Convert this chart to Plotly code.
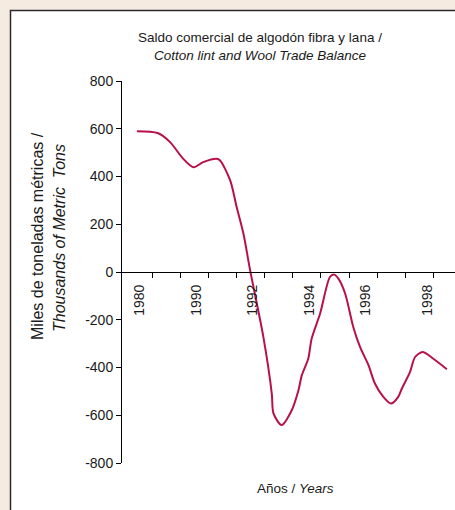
import plotly.graph_objects as go

# ---- data ----
# period index along the category axis (1 unit = one tick interval)
periodo = [0.45, 1.19, 1.63, 2.10, 2.46, 2.81, 3.29, 3.41, 3.77, 4.00, 4.24, 4.48,
           4.95, 5.25, 5.31, 5.60, 5.96, 6.20, 6.32, 6.55, 6.67, 6.97, 7.32, 7.47,
           7.62, 7.86, 8.15, 8.39, 8.69, 8.92, 9.22, 9.49, 9.75, 9.88, 10.17, 10.35,
           10.62, 10.94, 11.48]
saldo = [590, 582, 544, 474, 439, 460, 474, 467, 384, 272, 161, 7,
         -272, -509, -592, -641, -579, -495, -432, -362, -279, -174, -21, -11,
         -28, -90, -230, -314, -390, -467, -523, -551, -523, -488, -418, -356,
         -335, -358, -407]

tick_labels = ["1980", "1990", "1992", "1994", "1996", "1998"]
label_pos = [0.55, 2.57, 4.56, 6.6, 8.58, 10.78]
boundaries = list(range(1, 12))
y_ticks = list(range(-800, 801, 200))
y_tick_text = [str(v) for v in y_ticks]

# ---- layout geometry ----
W, H = 455, 510
L, R, T, B = 122, 0, 81, 47
PW, PH = W - L - R, H - T - B

def px(xp):
    return (xp - L) / PW

def py(yp):
    return (H - B - yp) / PH

FONT = "Liberation Sans, Arial, Helvetica, sans-serif"
TXT = "#1a1a1a"

fig = go.Figure()
fig.add_trace(go.Scatter(
    x=periodo, y=saldo, mode="lines",
    line=dict(color="#B8104A", width=2, shape="spline", smoothing=0.8),
    showlegend=False, hoverinfo="skip",
))

fig.update_layout(
    width=W, height=H,
    margin=dict(l=L, r=R, t=T, b=B, pad=0),
    paper_bgcolor="#F5EBE1",
    plot_bgcolor="rgba(0,0,0,0)",
    font=dict(family=FONT, color=TXT, size=14),
    xaxis=dict(
        range=[-0.08, 11.77], anchor="free", position=0.5,
        showline=True, linecolor="black", linewidth=1,
        showgrid=False, zeroline=False,
        tickmode="array", tickvals=label_pos, ticktext=tick_labels,
        ticks="outside", ticklen=6, tickcolor="rgba(0,0,0,0)",
        tickangle=-90, tickfont=dict(size=14, family=FONT, color=TXT),
        minor=dict(tickmode="array", tickvals=boundaries, ticks="outside",
                   ticklen=5, tickcolor="black", tickwidth=1, showgrid=False),
    ),
    yaxis=dict(
        range=[-800, 800],
        showline=True, linecolor="black", linewidth=1,
        showgrid=False, zeroline=False,
        tickmode="array", tickvals=y_ticks, ticktext=y_tick_text,
        ticks="outside", ticklen=5, tickcolor="black",
        tickfont=dict(size=14, family=FONT, color=TXT),
    ),
    shapes=[dict(
        type="rect", xref="paper", yref="paper",
        x0=px(10.5), y0=py(540), x1=px(480), y1=py(10.5),
        fillcolor="white", line=dict(color="#2a2a2a", width=1.5), layer="below",
    )],
    annotations=[
        dict(text="Saldo comercial de algodón fibra y lana /<br><i>Cotton lint and Wool Trade Balance</i>",
             xref="paper", yref="paper",
             x=px(260), y=py(47), showarrow=False, xanchor="center", yanchor="middle",
             font=dict(size=13.5, family=FONT, color=TXT)),
        dict(text="Miles de toneladas métricas /", xref="paper", yref="paper",
             x=px(37), y=py(236), showarrow=False, textangle=-90,
             xanchor="center", yanchor="middle",
             font=dict(size=16, family=FONT, color=TXT)),
        dict(text="<i>Thousands of Metric  Tons</i>", xref="paper", yref="paper",
             x=px(60), y=py(238), showarrow=False, textangle=-90,
             xanchor="center", yanchor="middle",
             font=dict(size=16, family=FONT, color=TXT)),
        dict(text="Años / <i>Years</i>", xref="paper", yref="paper",
             x=px(295), y=py(488), showarrow=False, xanchor="center", yanchor="middle",
             font=dict(size=13.5, family=FONT, color=TXT)),
    ],
)

fig.write_html(
    "out.html",
    config={"displayModeBar": False, "staticPlot": True},
    post_script="document.body.style.margin='0';document.body.style.padding='0';"
                "document.documentElement.style.overflow='hidden';",
)
